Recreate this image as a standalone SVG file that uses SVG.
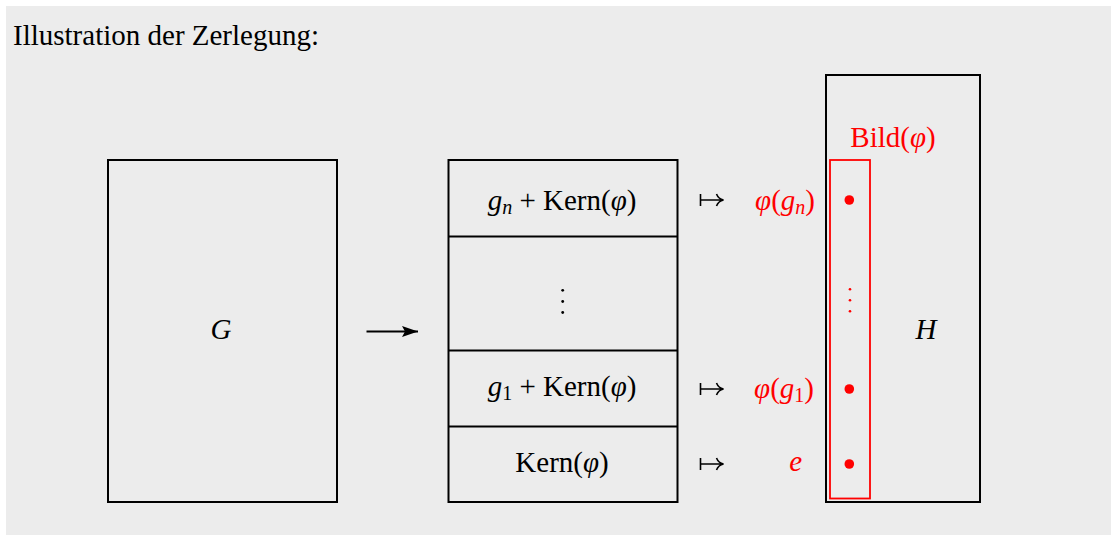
<svg xmlns="http://www.w3.org/2000/svg" width="1111" height="535" viewBox="0 0 1111 535">
  <style>
    text { font-family: "Liberation Serif", "DejaVu Serif", serif; font-size: 29px; fill: #000; }
    .i { font-style: italic; }
    .sub { font-size: 20px; }
    .red { fill: #ff0000; }
    .box { fill: none; stroke: #000; stroke-width: 2; }
    .rbox { fill: none; stroke: #ff0000; stroke-width: 1.8; }
    .dot { fill: #ff0000; }
    .vdot { fill: #000; }
    .conn { stroke: #000; stroke-width: 2; fill: none; }
    .mapsto { stroke: #000; stroke-width: 1.6; fill: none; }
  </style>
  <defs>
    <marker id="head" viewBox="0 0 16 11" refX="16" refY="5.5" markerWidth="16" markerHeight="11" markerUnits="userSpaceOnUse" orient="auto">
      <path d="M0,0 L16,5.5 L0,11 L3,5.5 Z" fill="#000"/>
    </marker>
    <g id="maps">
      <path class="mapsto" d="M0,-6 V6 M0,0 H22 M16,-6 Q18,-1 23,0 Q18,1 16,6"/>
    </g>
  </defs>

  <!-- page background -->
  <rect x="6" y="6" width="1105" height="529" fill="#ececec"/>

  <text x="13" y="45">Illustration der Zerlegung:</text>

  <!-- the group G -->
  <g id="node-G">
    <rect class="box" x="108" y="160" width="229" height="342"/>
    <text class="i" x="221" y="339" text-anchor="middle">G</text>
  </g>

  <!-- cosets of the kernel -->
  <g id="node-cosets">
    <rect class="box" x="448.5" y="160" width="229" height="342"/>
    <line class="box" x1="448.5" y1="236.5" x2="677.5" y2="236.5" stroke-width="3.2"/>
    <line class="box" x1="448.5" y1="350.5" x2="677.5" y2="350.5" stroke-width="3.2"/>
    <line class="box" x1="448.5" y1="426.5" x2="677.5" y2="426.5" stroke-width="3.2"/>
    <text x="562" y="210" text-anchor="middle"><tspan class="i">g</tspan><tspan class="i sub" dy="4">n</tspan><tspan dy="-4"> + Kern(</tspan><tspan class="i">φ</tspan>)</text>
    <circle class="vdot" cx="562.7" cy="290.3" r="1.4"/>
    <circle class="vdot" cx="562.7" cy="301.5" r="1.4"/>
    <circle class="vdot" cx="562.7" cy="312.5" r="1.4"/>
    <text x="562" y="396" text-anchor="middle"><tspan class="i">g</tspan><tspan class="sub" dy="4">1</tspan><tspan dy="-4"> + Kern(</tspan><tspan class="i">φ</tspan>)</text>
    <text x="562" y="472" text-anchor="middle">Kern(<tspan class="i">φ</tspan>)</text>
  </g>

  <!-- the group H with the image -->
  <g id="node-H">
    <rect class="box" x="826" y="75" width="154" height="427"/>
    <text class="i" x="926" y="339" text-anchor="middle">H</text>
  </g>

  <g id="node-Bild">
    <rect class="rbox" x="830" y="160" width="40" height="338.5"/>
    <text class="red" x="893" y="147" text-anchor="middle">Bild(<tspan class="i">φ</tspan>)</text>
    <circle class="dot" cx="849.3" cy="200" r="4.8"/>
    <circle class="dot" cx="850" cy="289.3" r="1.3"/>
    <circle class="dot" cx="850" cy="300.3" r="1.3"/>
    <circle class="dot" cx="850" cy="311.3" r="1.3"/>
    <circle class="dot" cx="849.3" cy="389" r="4.8"/>
    <circle class="dot" cx="849.3" cy="464" r="4.8"/>
  </g>

  <!-- images of the coset representatives -->
  <g id="node-images">
    <text class="red" x="815" y="210" text-anchor="end"><tspan class="i">φ</tspan>(<tspan class="i">g</tspan><tspan class="i sub" dy="4">n</tspan><tspan dy="-4">)</tspan></text>
    <text class="red" x="814" y="398" text-anchor="end"><tspan class="i">φ</tspan>(<tspan class="i">g</tspan><tspan class="sub" dy="4">1</tspan><tspan dy="-4">)</tspan></text>
    <text class="red i" x="802" y="471" text-anchor="end">e</text>
  </g>

  <!-- connectors -->
  <g id="connectors">
    <line class="conn" x1="366.5" y1="331.5" x2="418" y2="331.5" marker-end="url(#head)"/>
    <use href="#maps" x="700.5" y="200"/>
    <use href="#maps" x="700.5" y="389"/>
    <use href="#maps" x="700.5" y="464"/>
  </g>
</svg>
